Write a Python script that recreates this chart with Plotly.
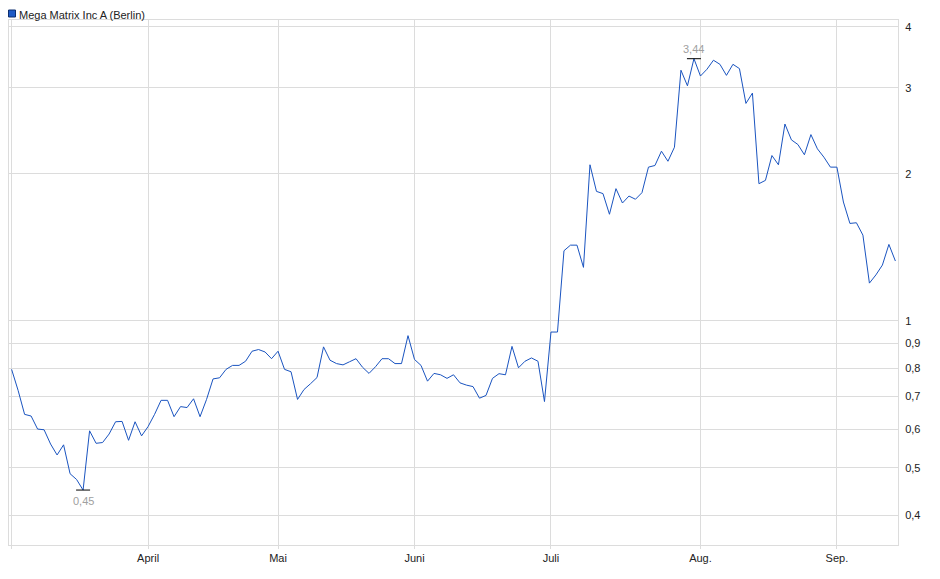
import numpy as np
import pandas as pd
import plotly.graph_objects as go

# Handelstage (Börse Berlin), 03.03.2025 bis 12.09.2025
holidays = ["2025-04-18", "2025-04-21", "2025-05-01"]
days = pd.bdate_range("2025-03-03", "2025-09-12")
days = days[~days.isin(pd.to_datetime(holidays))]
dates = [d.strftime("%Y-%m-%d") for d in days]

prices = [
    0.795, 0.72, 0.643, 0.638, 0.600, 0.598, 0.559, 0.531, 0.557, 0.486,
    0.473, 0.450, 0.595, 0.561, 0.563, 0.586, 0.621, 0.622, 0.569, 0.621,
    0.581, 0.607, 0.643, 0.687, 0.687, 0.636, 0.667, 0.664, 0.692, 0.636,
    0.690, 0.760, 0.764, 0.795, 0.810, 0.810, 0.826, 0.866, 0.873, 0.863,
    0.836, 0.866, 0.795, 0.786, 0.690, 0.723, 0.743, 0.765, 0.884, 0.830,
    0.817, 0.812, 0.824, 0.836, 0.803, 0.780, 0.805, 0.836, 0.836, 0.817,
    0.817, 0.932, 0.833, 0.810, 0.752, 0.780, 0.775, 0.762, 0.775, 0.746,
    0.738, 0.733, 0.694, 0.703, 0.762, 0.779, 0.775, 0.886, 0.801, 0.826,
    0.839, 0.826, 0.683, 0.948, 0.948, 1.391, 1.428, 1.428, 1.286, 2.086,
    1.840, 1.821, 1.652, 1.864, 1.742, 1.800, 1.773, 1.829, 2.063, 2.079,
    2.224, 2.121, 2.266, 3.258, 3.027, 3.440, 3.170, 3.273, 3.415, 3.350,
    3.180, 3.350, 3.283, 2.786, 2.925, 1.908, 1.938, 2.179, 2.086, 2.528,
    2.346, 2.295, 2.187, 2.405, 2.249, 2.162, 2.063, 2.063, 1.750, 1.582,
    1.587, 1.497, 1.194, 1.241, 1.300, 1.433, 1.325,
]

month_ticks = ["2025-03-03", "2025-04-01", "2025-05-02", "2025-06-02",
               "2025-07-01", "2025-08-01", "2025-09-01"]
month_labels = ["", "April", "Mai", "Juni", "Juli", "Aug.", "Sep."]

y_ticks = [0.4, 0.5, 0.6, 0.7, 0.8, 0.9, 1, 2, 3, 4]
y_labels = ["0,4", "0,5", "0,6", "0,7", "0,8", "0,9", "1", "2", "3", "4"]

LINE = "#1a54c0"
GRID = "#dcdcdc"
FONT = "Liberation Sans, Arial, sans-serif"

i_min = int(np.argmin(prices))
i_max = int(np.argmax(prices))

fig = go.Figure()
fig.add_trace(go.Scatter(
    x=dates, y=prices, mode="lines",
    line={"color": LINE, "width": 1},
    showlegend=False, hoverinfo="skip",
))
fig.add_trace(go.Scatter(
    x=[dates[i_min], dates[i_max]], y=[prices[i_min], prices[i_max]],
    mode="markers",
    marker={"symbol": "line-ew", "size": 10,
            "line": {"color": "#000000", "width": 1}},
    showlegend=False, hoverinfo="skip",
))

for i, pos, shift in [(i_min, "top", -3), (i_max, "bottom", 2)]:
    fig.add_annotation(
        x=dates[i], y=np.log10(prices[i]),
        text=f"{prices[i]:.2f}".replace(".", ","),
        showarrow=False, yanchor=pos, yshift=shift,
        font={"size": 11, "color": "#a0a0a0", "family": FONT},
    )

# Legende oben links
fig.add_shape(
    type="rect", xref="paper", yref="paper",
    xsizemode="pixel", ysizemode="pixel", xanchor=0, yanchor=1,
    x0=-0.5, x1=6.5, y0=3, y1=10,
    fillcolor="#1f5bc6", line={"color": "#0d2e6e", "width": 1},
)
fig.add_annotation(
    xref="paper", yref="paper", x=0, y=1, xanchor="left", yanchor="bottom",
    xshift=8, yshift=-3, showarrow=False,
    text="Mega Matrix Inc A (Berlin)",
    font={"size": 11, "color": "#222222", "family": FONT},
)

# die Seite hat 8 px Rand, daher etwas kleiner
fig.update_layout(
    width=932, height=571,
    margin={"l": 1, "r": 42, "t": 12, "b": 34},
    paper_bgcolor="#ffffff", plot_bgcolor="#ffffff",
    font={"family": FONT, "size": 11, "color": "#222222"},
    separators=", ",
)
fig.update_xaxes(
    type="category", range=[-0.4, len(dates) - 0.6],
    tickvals=month_ticks, ticktext=month_labels,
    showgrid=True, gridcolor=GRID, gridwidth=1,
    showline=True, linecolor=GRID, mirror=True,
    ticks="outside", ticklen=3, tickcolor=GRID,
)
fig.update_yaxes(
    type="log", side="right", range=[-0.4593, 0.6158],
    tickvals=y_ticks, ticktext=y_labels,
    showgrid=True, gridcolor=GRID, gridwidth=1,
    showline=True, linecolor=GRID, mirror=True,
    ticks="", ticklabelstandoff=4, zeroline=False,
)

fig.write_html("out.html")
